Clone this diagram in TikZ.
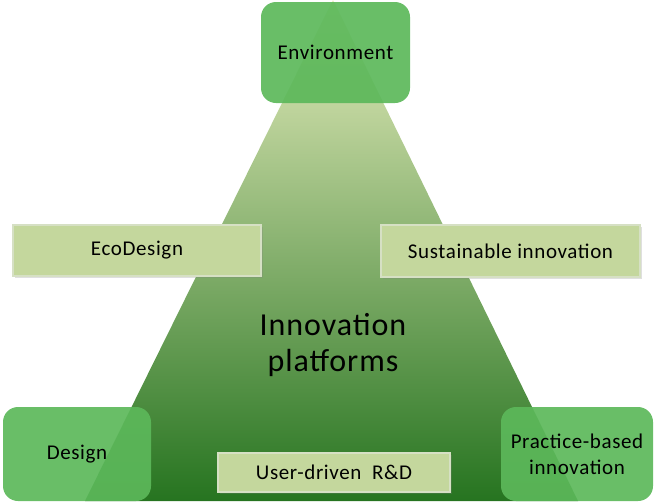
\documentclass[tikz,border=0pt]{standalone}
\usepackage{fontspec}
\setmainfont{Carlito}[LetterSpace=3]
\usetikzlibrary{shadows}

\definecolor{leafgreen}{RGB}{92,184,90}
\definecolor{sage}{RGB}{196,215,157}
\definecolor{sageline}{RGB}{214,224,196}
\definecolor{darkleaf}{RGB}{38,116,32}
\definecolor{paleleaf}{RGB}{232,238,190}

\begin{document}
\begin{tikzpicture}[x=1pt, y=-1pt,
    corner/.style = {draw=none, fill=leafgreen, fill opacity=0.92, text opacity=1,
                     rounded corners=15pt, align=center, font=\fontsize{21}{26}\selectfont},
    band/.style = {draw=sageline, line width=1.2pt, fill=sage, align=center,
                   drop shadow={shadow xshift=2pt, shadow yshift=-2pt, opacity=0.25},
                   font=\fontsize{21}{25}\selectfont}]
    \useasboundingbox (0,0) rectangle (655,501);
    % the platform triangle
    \shade[top color=paleleaf, bottom color=darkleaf]
        (333,0) -- (578,501) -- (85,501) -- cycle;
    \node[align=center, font=\fontsize{32}{36}\selectfont] (platform) at (333,345)
        {Innovation\\platforms};
    % corners
    \node[corner, minimum width=149pt, minimum height=101pt] (env) at (335.5,52.5)
        {Environment};
    \node[corner, minimum width=148pt, minimum height=94pt] (design) at (77,454)
        {Design};
    \node[corner, minimum width=152pt, minimum height=94pt] (practice) at (577,454)
        {Practice-based\\innovation};
    % links
    \node[band, minimum width=248pt, minimum height=51pt] (eco) at (137,250.5) {EcoDesign};
    \node[band, minimum width=259pt, minimum height=52pt] (sust) at (510.5,251)
        {Sustainable innovation};
    \node[band, minimum width=232pt, minimum height=39pt] (user) at (334,472.5)
        {User-driven~ R\&D};
\end{tikzpicture}
\end{document}
